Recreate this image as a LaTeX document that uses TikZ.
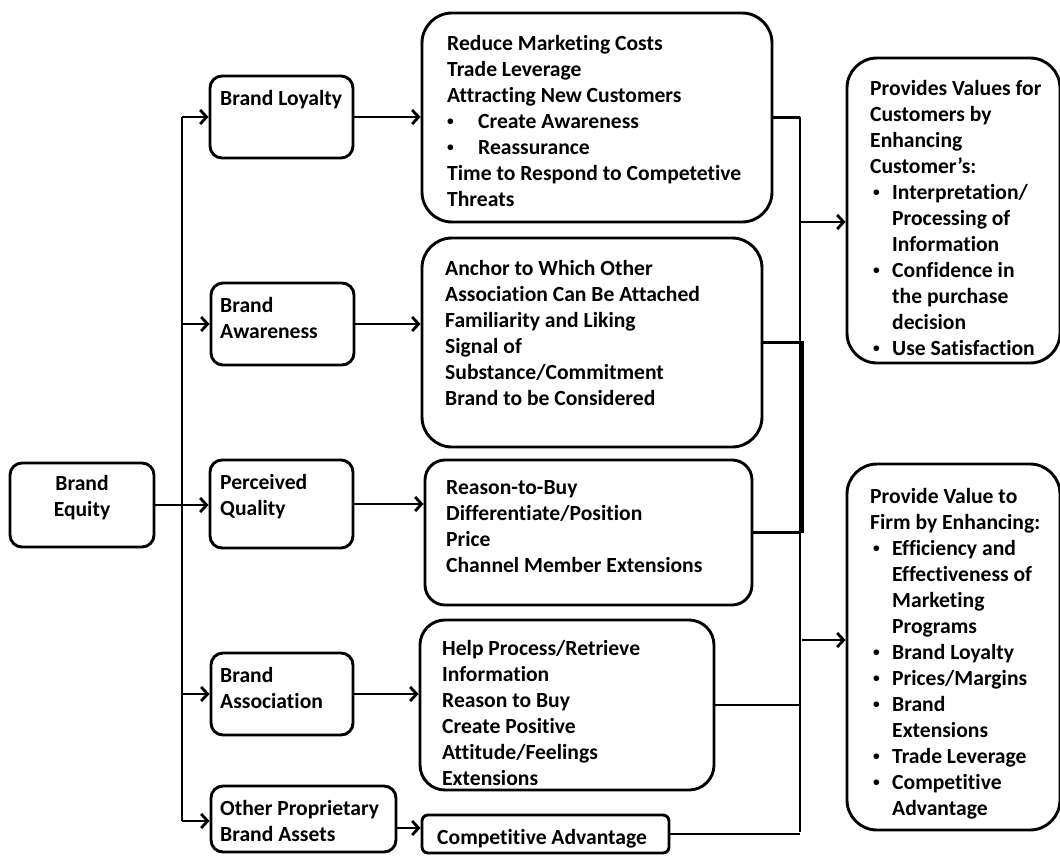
\documentclass[tikz,border=0pt]{standalone}
\usepackage{fontspec}
\setmainfont{Carlito}[Ligatures={NoCommon}]
\usetikzlibrary{arrows.meta,fit}
\newcommand\bul{\raisebox{0.14em}{\scalebox{0.62}{\textbullet}}}

\begin{document}
\begin{tikzpicture}[x=1pt,y=-1pt,
  box/.style={draw, line width=2.9pt, rounded corners=#1, inner sep=0pt},
  box/.default=12pt,
  txt/.style={anchor=north west, inner sep=0pt, align=left,
    font=\fontsize{21.6}{26}\selectfont\bfseries},
  conn/.style={line width=2.8pt},
  arr/.style={conn, -{Straight Barb[length=6.5pt,width=14pt]}}
]
\useasboundingbox (0,0) rectangle (1060,855);

% ---- root and first-level boxes
\node[box, fit={(10,463) (154,547)}, align=center,
      font=\fontsize{21.6}{26}\selectfont\bfseries] (be) {Brand\\Equity};
\node[box, fit={(210,76) (353,158)}] (bl) {};
\node[box, fit={(211,283) (354,365)}] (ba) {};
\node[box, fit={(210,460) (353,548)}] (pq) {};
\node[box, fit={(211,653) (353,735)}] (bas) {};
\node[box, fit={(211,786) (396,852)}] (op) {};

\node[txt] (blt) at (220,90) {Brand Loyalty};
\node[txt] (bat) at (220,297) {Brand\\Awareness};
\node[txt] (pqt) at (220,474) {Perceived\\Quality};
\node[txt] (bast) at (220,667) {Brand\\Association};
\node[txt] (opt) at (220,800) {Other Proprietary\\Brand Assets};

% ---- consequence boxes
\node[box=30pt, fit={(422,13) (772,222)}] (m1) {};
\node[box=30pt, fit={(422,238) (762,447)}] (m2) {};
\node[box=20pt, fit={(425,460) (752,605)}] (m3) {};
\node[box=25pt, fit={(420,620) (714,790)}] (m4) {};
\node[box=6pt, fit={(422,815) (669,853)}] (m5) {};

\node[txt] (m1t) at (447,35) {Reduce Marketing Costs\\Trade Leverage\\Attracting New Customers\\
  \makebox[31pt][l]{\bul}Create Awareness\\
  \makebox[31pt][l]{\bul}Reassurance\\
  Time to Respond to Competetive\\Threats};
\node[txt] (m2t) at (445,260) {Anchor to Which Other\\Association Can Be Attached\\Familiarity and Liking\\Signal of\\Substance/Commitment\\Brand to be Considered};
\node[txt] (m3t) at (446,480) {Reason-to-Buy\\Differentiate/Position\\Price\\Channel Member Extensions};
\node[txt] (m4t) at (442,640) {Help Process/Retrieve\\Information\\Reason to Buy\\Create Positive\\Attitude/Feelings\\Extensions};
\node[txt] (m5t) at (437,829) {Competitive Advantage};

% ---- value boxes
\node[box=30pt, fit={(847,58) (1060,363)}] (r1) {};
\node[box=30pt, fit={(847,464) (1060,830)}] (r2) {};

\node[txt] (r1t) at (870,80) {Provides Values for\\Customers by\\Enhancing\\Customer’s:\\
  \hspace*{3pt}\makebox[19pt][l]{\bul}Interpretation/\\
  \hspace*{22pt}Processing of\\
  \hspace*{22pt}Information\\
  \hspace*{3pt}\makebox[19pt][l]{\bul}Confidence in\\
  \hspace*{22pt}the purchase\\
  \hspace*{22pt}decision\\
  \hspace*{3pt}\makebox[19pt][l]{\bul}Use Satisfaction};
\node[txt] (r2t) at (870,488) {Provide Value to\\Firm by Enhancing:\\
  \hspace*{3pt}\makebox[19pt][l]{\bul}Efficiency and\\
  \hspace*{22pt}Effectiveness of\\
  \hspace*{22pt}Marketing\\
  \hspace*{22pt}Programs\\
  \hspace*{3pt}\makebox[19pt][l]{\bul}Brand Loyalty\\
  \hspace*{3pt}\makebox[19pt][l]{\bul}Prices/Margins\\
  \hspace*{3pt}\makebox[19pt][l]{\bul}Brand\\
  \hspace*{22pt}Extensions\\
  \hspace*{3pt}\makebox[19pt][l]{\bul}Trade Leverage\\
  \hspace*{3pt}\makebox[19pt][l]{\bul}Competitive\\
  \hspace*{22pt}Advantage};

% ---- left trunk
\coordinate (trunk) at (182,117);
\coordinate (trunkend) at (182,821);
\draw[conn] (trunk) -- (trunkend);
\draw[arr] (trunk) -- (bl.west);
\draw[arr] (ba.west -| trunk) -- (ba.west);
\draw[arr] (be.east) -- (be.east -| pq.west);
\draw[arr] (bas.west -| trunk) -- (bas.west);
\draw[arr] (trunkend) -- (trunkend -| op.west);

% ---- first level to consequences
\draw[arr] (bl.east) -- (bl.east -| m1.west);
\draw[arr] (ba.east) -- (ba.east -| m2.west);
\draw[arr] (pq.east) -- (pq.east -| m3.west);
\draw[arr] (bas.east) -- (bas.east -| m4.west);
\draw[arr] ([yshift=-9pt]op.east) -- ([yshift=-9pt]op.east -| m5.west);

% ---- right bus
\coordinate (bus) at (800,117);
\coordinate (busend) at (800,832);
\coordinate (bus2) at (802.5,342);
\draw[conn] (bus) -- (busend);
\draw[conn] (m1.east) -- (m1.east -| bus);
\draw[conn] (m2.east) -- (m2.east -| bus2) -- (m3.east -| bus2);
\draw[conn] (m3.east) -- (m3.east -| bus);
\draw[conn] (m4.east) -- (m4.east -| bus);
\draw[conn] (m5.east) -- (m5.east -| bus);

\coordinate (jA) at (800,222);
\coordinate (jB) at (802,640);
\draw[arr] (jA) -- (jA -| r1.west);
\draw[arr] (jB) -- (jB -| r2.west);
\end{tikzpicture}
\end{document}
